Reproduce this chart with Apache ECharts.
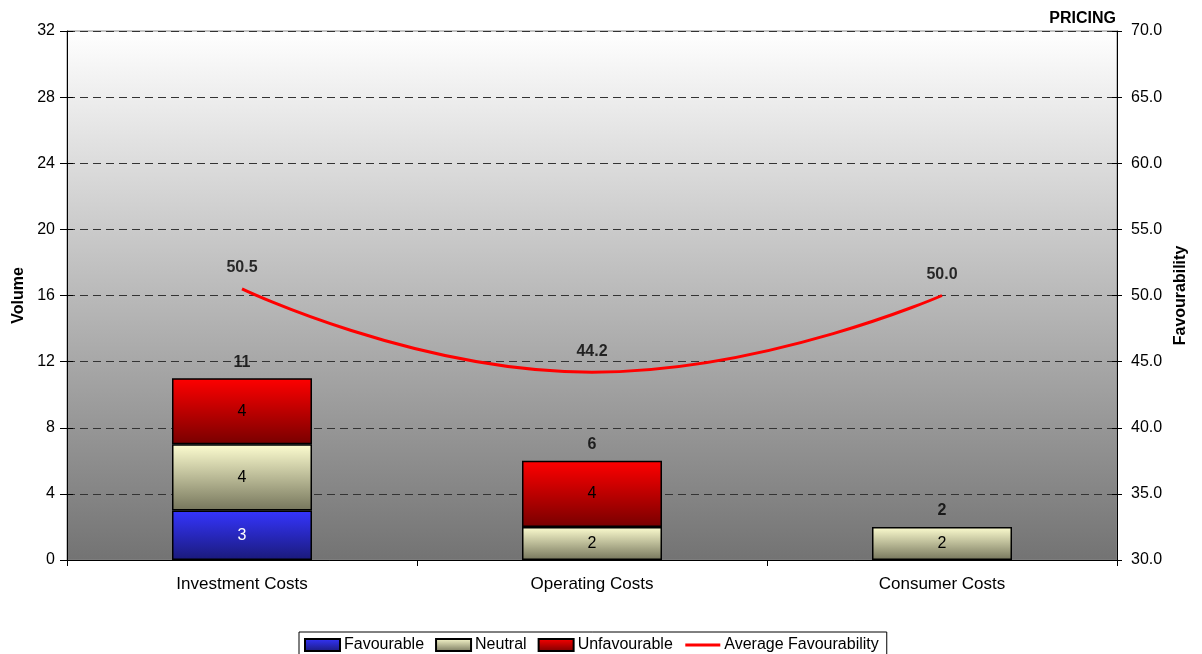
<!DOCTYPE html>
<html>
<head>
<meta charset="utf-8">
<script src="https://cdn.jsdelivr.net/npm/echarts@6/dist/echarts.min.js"></script>
<style>
  html, body { margin: 0; padding: 0; background: #fff; }
  #chart { width: 1202px; height: 654px; }
</style>
</head>
<body>
<div id="chart"></div>
<script>
// Pricing: volume of responses per cost area, with average favourability
const categories = ['Investment Costs', 'Operating Costs', 'Consumer Costs'];
const favourable = [3, 0, 0];
const neutral = [4, 2, 2];
const unfavourable = [4, 4, 0];
const avgFavourability = [50.5, 44.2, 50.0];
const volumeTicks = { min: 0, max: 32, interval: 4 };
const favourTicks = { min: 30, max: 70, interval: 5 };

const totals = categories.map((_, i) => favourable[i] + neutral[i] + unfavourable[i]);

const FONT = '"Liberation Sans", Arial, sans-serif';
const FS = 16;

function vGrad(top, bottom) {
  return new echarts.graphic.LinearGradient(0, 0, 0, 1, [
    { offset: 0, color: top },
    { offset: 1, color: bottom }
  ]);
}

function barSeries(name, data, top, bottom, labelColor) {
  return {
    name: name,
    type: 'bar',
    stack: 'volume',
    barWidth: '40%',
    data: data.map(v => (v === 0 ? null : v)),
    itemStyle: { color: vGrad(top, bottom), borderColor: '#000', borderWidth: 1.5 },
    label: {
      show: true, position: 'inside', color: labelColor,
      fontFamily: FONT, fontSize: FS
    },
    emphasis: { disabled: true }
  };
}

const boldLabel = { color: '#000', fontSize: FS, fontWeight: 'bold', fontFamily: FONT };

const chart = echarts.init(document.getElementById('chart'), null, { renderer: 'canvas' });

chart.setOption({
  animation: false,
  textStyle: { fontFamily: FONT },
  title: {
    text: 'PRICING', right: 86, top: 11, padding: 0,
    textStyle: { fontFamily: FONT, fontSize: FS, fontWeight: 'bold', color: '#000' }
  },
  grid: {
    left: 67, right: 85, top: 31, bottom: 94,
    show: true,
    backgroundColor: vGrad('#ffffff', '#737373'),
    borderColor: '#888', borderWidth: 1
  },
  legend: {
    top: 632, left: 299,
    data: [
      { name: 'Favourable', icon: 'rect' },
      { name: 'Neutral', icon: 'rect' },
      { name: 'Unfavourable', icon: 'rect' },
      { name: 'Average Favourability', itemStyle: { opacity: 0 }, lineStyle: { width: 3 } }
    ],
    itemWidth: 35, itemHeight: 12, itemGap: 11,
    borderColor: '#000', borderWidth: 1,
    padding: [5, 8, 8, 5],
    backgroundColor: '#fff',
    textStyle: { fontFamily: FONT, fontSize: FS, color: '#000', padding: [0, 0, 0, -1] }
  },
  xAxis: {
    type: 'category',
    data: categories,
    axisLine: { lineStyle: { color: '#000', width: 1 } },
    axisTick: { show: true, length: 6, lineStyle: { color: '#000' } },
    axisLabel: { color: '#000', fontSize: 17, fontFamily: FONT, margin: 16 },
    splitLine: { show: false }
  },
  yAxis: [
    {
      type: 'value', position: 'left',
      min: volumeTicks.min, max: volumeTicks.max, interval: volumeTicks.interval,
      name: 'Volume', nameLocation: 'middle', nameGap: 39, nameRotate: 90,
      nameTextStyle: { fontFamily: FONT, fontSize: FS, fontWeight: 'bold', color: '#000' },
      axisLine: { show: true, lineStyle: { color: '#000' } },
      axisTick: { show: true, length: 7, lineStyle: { color: '#000' } },
      axisLabel: { color: '#000', fontSize: FS, fontFamily: FONT, margin: 12 },
      splitLine: { show: true, lineStyle: { color: '#333', type: [8, 5], width: 1 } }
    },
    {
      type: 'value', position: 'right',
      min: favourTicks.min, max: favourTicks.max, interval: favourTicks.interval,
      name: 'Favourability', nameLocation: 'middle', nameGap: 56, nameRotate: 90,
      nameTextStyle: { fontFamily: FONT, fontSize: FS, fontWeight: 'bold', color: '#000' },
      axisLine: { show: true, lineStyle: { color: '#000' } },
      axisTick: { show: true, length: 5, lineStyle: { color: '#000' } },
      axisLabel: {
        color: '#000', fontSize: FS, fontFamily: FONT, margin: 14,
        formatter: v => v.toFixed(1)
      },
      splitLine: { show: false }
    },
    {
      // inner tick marks on the left axis
      type: 'value', position: 'left',
      min: volumeTicks.min, max: volumeTicks.max, interval: volumeTicks.interval,
      axisLine: { show: false },
      axisTick: { show: true, inside: true, length: 6, lineStyle: { color: '#000' } },
      axisLabel: { show: false },
      splitLine: { show: false }
    },
    {
      // inner tick marks on the right axis
      type: 'value', position: 'right',
      min: favourTicks.min, max: favourTicks.max, interval: favourTicks.interval,
      axisLine: { show: false },
      axisTick: { show: true, inside: true, length: 5, lineStyle: { color: '#000' } },
      axisLabel: { show: false },
      splitLine: { show: false }
    }
  ],
  series: [
    barSeries('Favourable', favourable, '#3535ff', '#1a1a7a', '#fff'),
    barSeries('Neutral', neutral, '#fdfdd0', '#76765c', '#000'),
    barSeries('Unfavourable', unfavourable, '#ff0000', '#780000', '#000'),
    {
      // totals printed above each stack
      name: 'Total',
      type: 'scatter',
      symbolSize: 0,
      data: totals,
      label: Object.assign({ show: true, position: 'top', distance: 8 }, boldLabel),
      emphasis: { disabled: true },
      z: 5
    },
    {
      name: 'Average Favourability',
      type: 'line',
      yAxisIndex: 1,
      data: avgFavourability,
      smooth: 0.5,
      symbol: 'none',
      lineStyle: { color: '#ff0000', width: 3 },
      itemStyle: { color: '#ff0000' },
      emphasis: { disabled: true },
      z: 4
    },
    {
      // value labels for the favourability line
      name: 'Favourability Labels',
      type: 'scatter',
      yAxisIndex: 1,
      symbolSize: 0,
      data: avgFavourability,
      label: Object.assign({
        show: true, position: 'top', distance: 13,
        formatter: p => p.value.toFixed(1)
      }, boldLabel),
      emphasis: { disabled: true },
      z: 5
    }
  ]
});
</script>
</body>
</html>
